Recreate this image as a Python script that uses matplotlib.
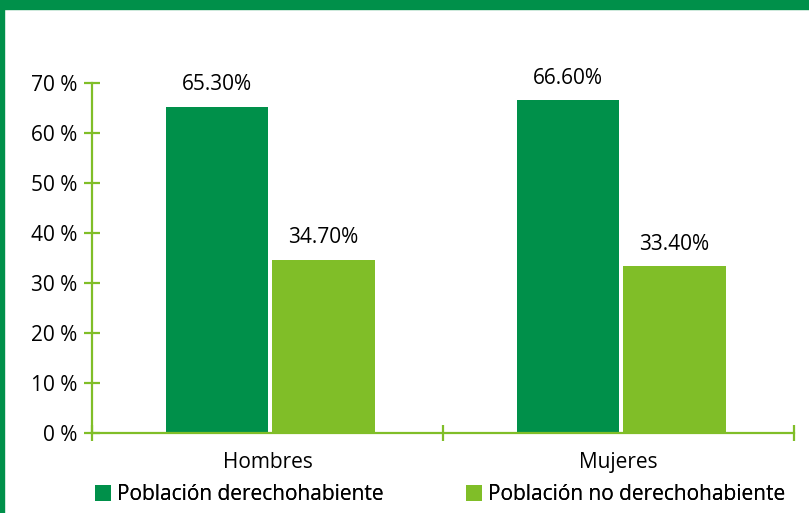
import matplotlib.pyplot as plt
from matplotlib.patches import Rectangle
import numpy as np

plt.rcParams['font.family'] = ['Open Sans', 'DejaVu Sans']

categorias = ['Hombres', 'Mujeres']
series = ['Población derechohabiente', 'Población no derechohabiente']
derechohabiente = [65.3, 66.6]
no_derechohabiente = [34.7, 33.4]
yticks = [0, 10, 20, 30, 40, 50, 60, 70]

verde_oscuro = '#00904A'
verde_claro = '#80BE28'
fs = 15

fig = plt.figure(figsize=(8.09, 5.13), dpi=100)
ax = fig.add_axes([92 / 809, 1 - 433 / 513, 702 / 809, 350 / 513])

x = np.arange(len(categorias))
w = 0.292
b1 = ax.bar(x - 0.1445, derechohabiente, w, color=verde_oscuro, label=series[0])
b2 = ax.bar(x + 0.1595, no_derechohabiente, w, color=verde_claro, label=series[1])

for barras, vals in [(b1, derechohabiente), (b2, no_derechohabiente)]:
    for r, v in zip(barras, vals):
        ax.annotate(f'{v:.2f}%', (r.get_x() + r.get_width() / 2, v),
                    xytext=(0, 8), textcoords='offset points',
                    ha='center', va='bottom', fontsize=fs, annotation_clip=False)

ax.set_xlim(-0.5, 1.5)
ax.set_ylim(0, 70)
ax.set_yticks(yticks)
ax.set_yticklabels([f'{t} %' for t in yticks], fontsize=fs)
ax.set_xticks([-0.5, 0.5, 1.5])
ax.set_xticklabels([])
ax.set_xticks(x, minor=True)
ax.set_xticklabels(categorias, minor=True, fontsize=fs)
ax.tick_params(axis='x', which='minor', length=0, pad=14)
ax.tick_params(axis='both', which='major', direction='inout', length=11,
               width=1.6, color=verde_claro)
ax.tick_params(axis='y', pad=5)

for s in ['top', 'right']:
    ax.spines[s].set_visible(False)
for s in ['left', 'bottom']:
    ax.spines[s].set_color(verde_claro)
    ax.spines[s].set_linewidth(1.6)

# una leyenda por serie, cada una en su sitio
ley_y = 1 - 495 / 513
for h, xpos in [(b1, 95 / 809), (b2, 466 / 809)]:
    leg = fig.legend(handles=[h], loc='center left', bbox_to_anchor=(xpos, ley_y),
                     frameon=False, fontsize=fs, handlelength=0.77, handleheight=0.77,
                     handletextpad=0.3, borderaxespad=0, borderpad=0)
    fig.add_artist(leg)

# franja superior y borde izquierdo
fig.patches.append(Rectangle((0, 1 - 9 / 513), 1, 9 / 513, transform=fig.transFigure,
                             color=verde_oscuro, zorder=10))
fig.patches.append(Rectangle((0, 0), 4 / 809, 1, transform=fig.transFigure,
                             color=verde_oscuro, zorder=10))

fig.savefig('out.png', dpi=100)
